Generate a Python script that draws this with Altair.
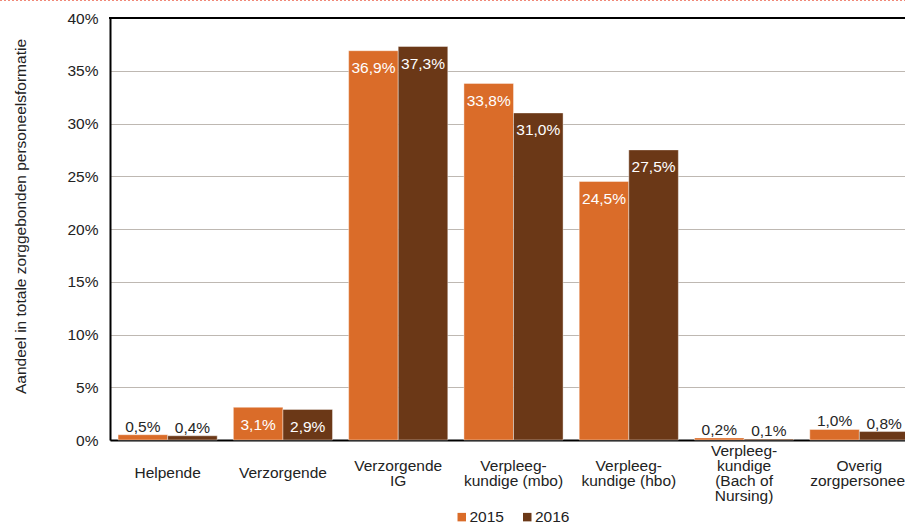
import altair as alt
import pandas as pd

# Share of care-related staffing per job category, 2015 vs 2016 (in %)
categories = [
    "Helpende",
    "Verzorgende",
    "Verzorgende\nIG",
    "Verpleeg-\nkundige (mbo)",
    "Verpleeg-\nkundige (hbo)",
    "Verpleeg-\nkundige\n(Bach of\nNursing)",
    "Overig\nzorgpersoneel",
]
years = ["2015", "2016"]
values_2015 = [0.5, 3.1, 36.9, 33.8, 24.5, 0.2, 1.0]
values_2016 = [0.4, 2.9, 37.3, 31.0, 27.5, 0.1, 0.8]
y_ticks = [0, 5, 10, 15, 20, 25, 30, 35, 40]

rows = []
for cat, a, b in zip(categories, values_2015, values_2016):
    rows.append({"cat": cat, "year": years[0], "value": a})
    rows.append({"cat": cat, "year": years[1], "value": b})
df = pd.DataFrame(rows)

FONT = "Liberation Sans"
ORANGE = "#DA6C29"
BROWN = "#6B3817"
LINE_H = 15

W, H = 795, 422
x_scale = alt.Scale(domain=categories, range=[0, 807], paddingInner=0.14, paddingOuter=0.07)
y_scale = alt.Scale(domain=[0, 40], nice=False)
color_scale = alt.Scale(domain=years, range=[ORANGE, BROWN])

base = alt.Chart(df).transform_calculate(
    label="replace(format(datum.value, '.1f'), '.', ',') + '%'"
)

# multi-line category labels are centred vertically on one line
label_pad = alt.ExprRef(
    expr=f"32.5 - {LINE_H / 2} * (length(split(datum.value, '\\n')) - 1)"
)

bars = base.mark_bar(stroke="#ffffff", strokeWidth=0.8, strokeOpacity=0.5).encode(
    x=alt.X(
        "cat:N",
        scale=x_scale,
        sort=categories,
        title=None,
        axis=alt.Axis(
            labelExpr="split(datum.value, '\\n')",
            labelAngle=0,
            labelBaseline="middle",
            labelPadding=label_pad,
            labelLineHeight=LINE_H,
            labelFont=FONT,
            labelFontSize=15.5,
            labelColor="#222222",
            labelOverlap=False,
            labelLimit=300,
            ticks=False,
            domainColor="#000000",
            domainWidth=2,
            grid=False,
        ),
    ),
    xOffset=alt.XOffset("year:N", sort=years),
    y=alt.Y(
        "value:Q",
        scale=y_scale,
        axis=alt.Axis(
            values=y_ticks,
            labelExpr="datum.value + '%'",
            labelFont=FONT,
            labelFontSize=15.5,
            labelColor="#222222",
            labelPadding=12,
            ticks=False,
            domainColor="#000000",
            domainWidth=2,
            gridColor="#7d7065",
            gridDash=[1, 1],
            gridWidth=1,
            title="Aandeel in totale zorggebonden personeelsformatie",
            titleFont=FONT,
            titleFontSize=15.5,
            titleFontWeight="normal",
            titleColor="#222222",
            titleAngle=-90,
            titleAlign="center",
            titleBaseline="middle",
            titleX=-90,
            titleY=198,
        ),
    ),
    color=alt.Color(
        "year:N",
        scale=color_scale,
        legend=alt.Legend(
            title=None,
            orient="none",
            direction="horizontal",
            legendX=344,
            legendY=491,
            symbolType="square",
            symbolSize=72,
            symbolStrokeWidth=0,
            labelFont=FONT,
            labelFontSize=15.5,
            labelColor="#222222",
            labelOffset=0,
            columnPadding=15.5,
        ),
    ),
)

inside = base.transform_filter("datum.value >= 2").mark_text(
    font=FONT, fontSize=15.5, color="#ffffff", baseline="middle", dy=17.5
).encode(
    x=alt.X("cat:N", scale=x_scale, sort=categories),
    xOffset=alt.XOffset("year:N", sort=years),
    y=alt.Y("value:Q", scale=y_scale),
    text="label:N",
)

outside = base.transform_filter("datum.value < 2").mark_text(
    font=FONT, fontSize=15.5, color="#262626", baseline="middle", dy=-8
).encode(
    x=alt.X("cat:N", scale=x_scale, sort=categories),
    xOffset=alt.XOffset("year:N", sort=years),
    y=alt.Y("value:Q", scale=y_scale),
    text="label:N",
)

# black frame line along the top of the plot
top_line = alt.Chart(pd.DataFrame({"v": [40]})).mark_rule(
    color="#000000", strokeWidth=2
).encode(
    y=alt.Y("v:Q", scale=y_scale),
    x=alt.value(-1),
    x2=alt.value(820),
)

# dotted accent line at the very top of the page
accent = alt.Chart(pd.DataFrame({"v": [0]})).mark_rule(
    color="#f08878", strokeWidth=1.2, strokeDash=[2, 2]
).encode(
    y=alt.value(-17.5),
    x=alt.value(-110),
    x2=alt.value(800),
)

chart = (
    alt.layer(bars, inside, outside, top_line, accent)
    .properties(
        width=W,
        height=H,
        autosize=alt.AutoSizeParams(type="none"),
        padding={"left": 110, "top": 18, "right": 0, "bottom": 85},
        background="#ffffff",
    )
    .configure_view(stroke=None)
)

chart.save("out.html", embed_options={"renderer": "svg", "actions": False})
